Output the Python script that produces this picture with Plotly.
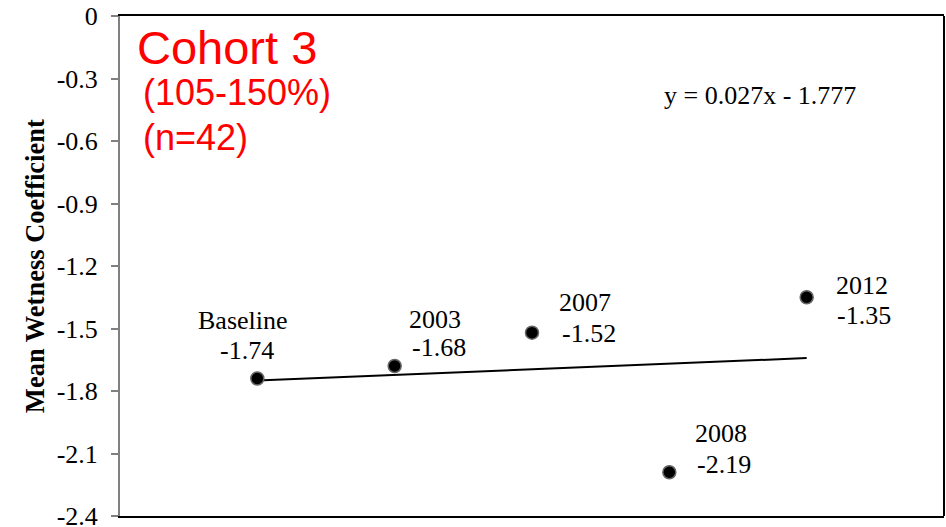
import plotly.graph_objects as go

# Survey periods and mean wetness coefficient for Cohort 3
periods = ["Baseline", "2003", "2007", "2008", "2012"]
period_index = [1, 2, 3, 4, 5]
mean_wetness = [-1.74, -1.68, -1.52, -2.19, -1.35]

# Linear trend fitted over the period index
trend_slope = 0.027
trend_intercept = -1.777

# Y-axis ticks
y_tick_values = [0, -0.3, -0.6, -0.9, -1.2, -1.5, -1.8, -2.1, -2.4]
y_tick_labels = ["0", "-0.3", "-0.6", "-0.9", "-1.2", "-1.5", "-1.8", "-2.1", "-2.4"]

# Pixel offsets of the (name, value) label lines relative to each point
label_offsets = [
    ((-14, 58), (-10, 28)),
    ((40, 47), (44, 19)),
    ((53, 30), (57, -1)),
    ((52, 39), (55, 8)),
    ((55, 12), (57, -18)),
]

serif = "Liberation Serif, Times New Roman, serif"
sans = "Liberation Sans, Arial, sans-serif"

trend_x = [period_index[0], period_index[-1]]
trend_y = [trend_slope * x + trend_intercept for x in trend_x]

fig = go.Figure()

fig.add_trace(go.Scatter(
    x=trend_x, y=trend_y, mode="lines",
    line=dict(color="black", width=2),
    hoverinfo="skip", showlegend=False,
))

fig.add_trace(go.Scatter(
    x=period_index, y=mean_wetness, mode="markers",
    marker=dict(size=13, color="black", line=dict(color="#666666", width=1.5)),
    text=periods, showlegend=False,
))

annotations = []
for x, y, name, ((nx, ny), (vx, vy)) in zip(period_index, mean_wetness, periods, label_offsets):
    annotations.append(dict(
        x=x, y=y, xref="x", yref="y", text=name, showarrow=False,
        xanchor="center", yanchor="middle", xshift=nx, yshift=ny,
        font=dict(family=serif, size=26, color="black"),
    ))
    annotations.append(dict(
        x=x, y=y, xref="x", yref="y", text=f"{y:.2f}", showarrow=False,
        xanchor="center", yanchor="middle", xshift=vx, yshift=vy,
        font=dict(family=serif, size=26, color="black"),
    ))

# Trend equation
annotations.append(dict(
    x=0.777, y=0.842, xref="paper", yref="paper", showarrow=False,
    text=f"y = {trend_slope:.3f}x - {abs(trend_intercept):.3f}",
    xanchor="center", yanchor="middle",
    font=dict(family=serif, size=26, color="black"),
))

# Cohort heading
annotations.append(dict(
    x=0.018, y=0.938, xref="paper", yref="paper", showarrow=False,
    text="Cohort 3", xanchor="left", yanchor="middle",
    font=dict(family=sans, size=47, color="#FF0000"),
))
annotations.append(dict(
    x=0.025, y=0.848, xref="paper", yref="paper", showarrow=False,
    text="(105-150%)", xanchor="left", yanchor="middle",
    font=dict(family=sans, size=36, color="#FF0000"),
))
annotations.append(dict(
    x=0.025, y=0.758, xref="paper", yref="paper", showarrow=False,
    text="(n=42)", xanchor="left", yanchor="middle",
    font=dict(family=sans, size=36, color="#FF0000"),
))

# Y-axis title
annotations.append(dict(
    x=-0.103, y=0.5, xref="paper", yref="paper", showarrow=False,
    text="<b>Mean Wetness Coefficient</b>", textangle=-90,
    xanchor="center", yanchor="middle",
    font=dict(family=serif, size=26.5, color="black"),
))

fig.update_layout(
    width=946, height=527,
    margin=dict(l=120, r=2, t=16, b=11, autoexpand=False),
    paper_bgcolor="white", plot_bgcolor="white",
    annotations=annotations,
    shapes=[dict(type="line", xref="paper", yref="paper",
                 x0=1, x1=1, y0=0, y1=1,
                 line=dict(color="black", width=2))],
)

fig.update_xaxes(
    range=[0, 6], showgrid=False, zeroline=False,
    showticklabels=False, ticks="", automargin=False,
    showline=True, linecolor="black", linewidth=2, mirror=True,
)

fig.update_yaxes(
    range=[-2.4, 0], showgrid=False, zeroline=False, automargin=False,
    tickvals=y_tick_values, ticktext=y_tick_labels,
    ticks="outside", ticklen=7, tickcolor="#808080", tickwidth=2,
    ticklabelstandoff=8, ticklabeloverflow="allow",
    tickfont=dict(family=serif, size=26, color="black"),
    showline=True, linecolor="#808080", linewidth=2,
)

fig.write_html("out.html")
